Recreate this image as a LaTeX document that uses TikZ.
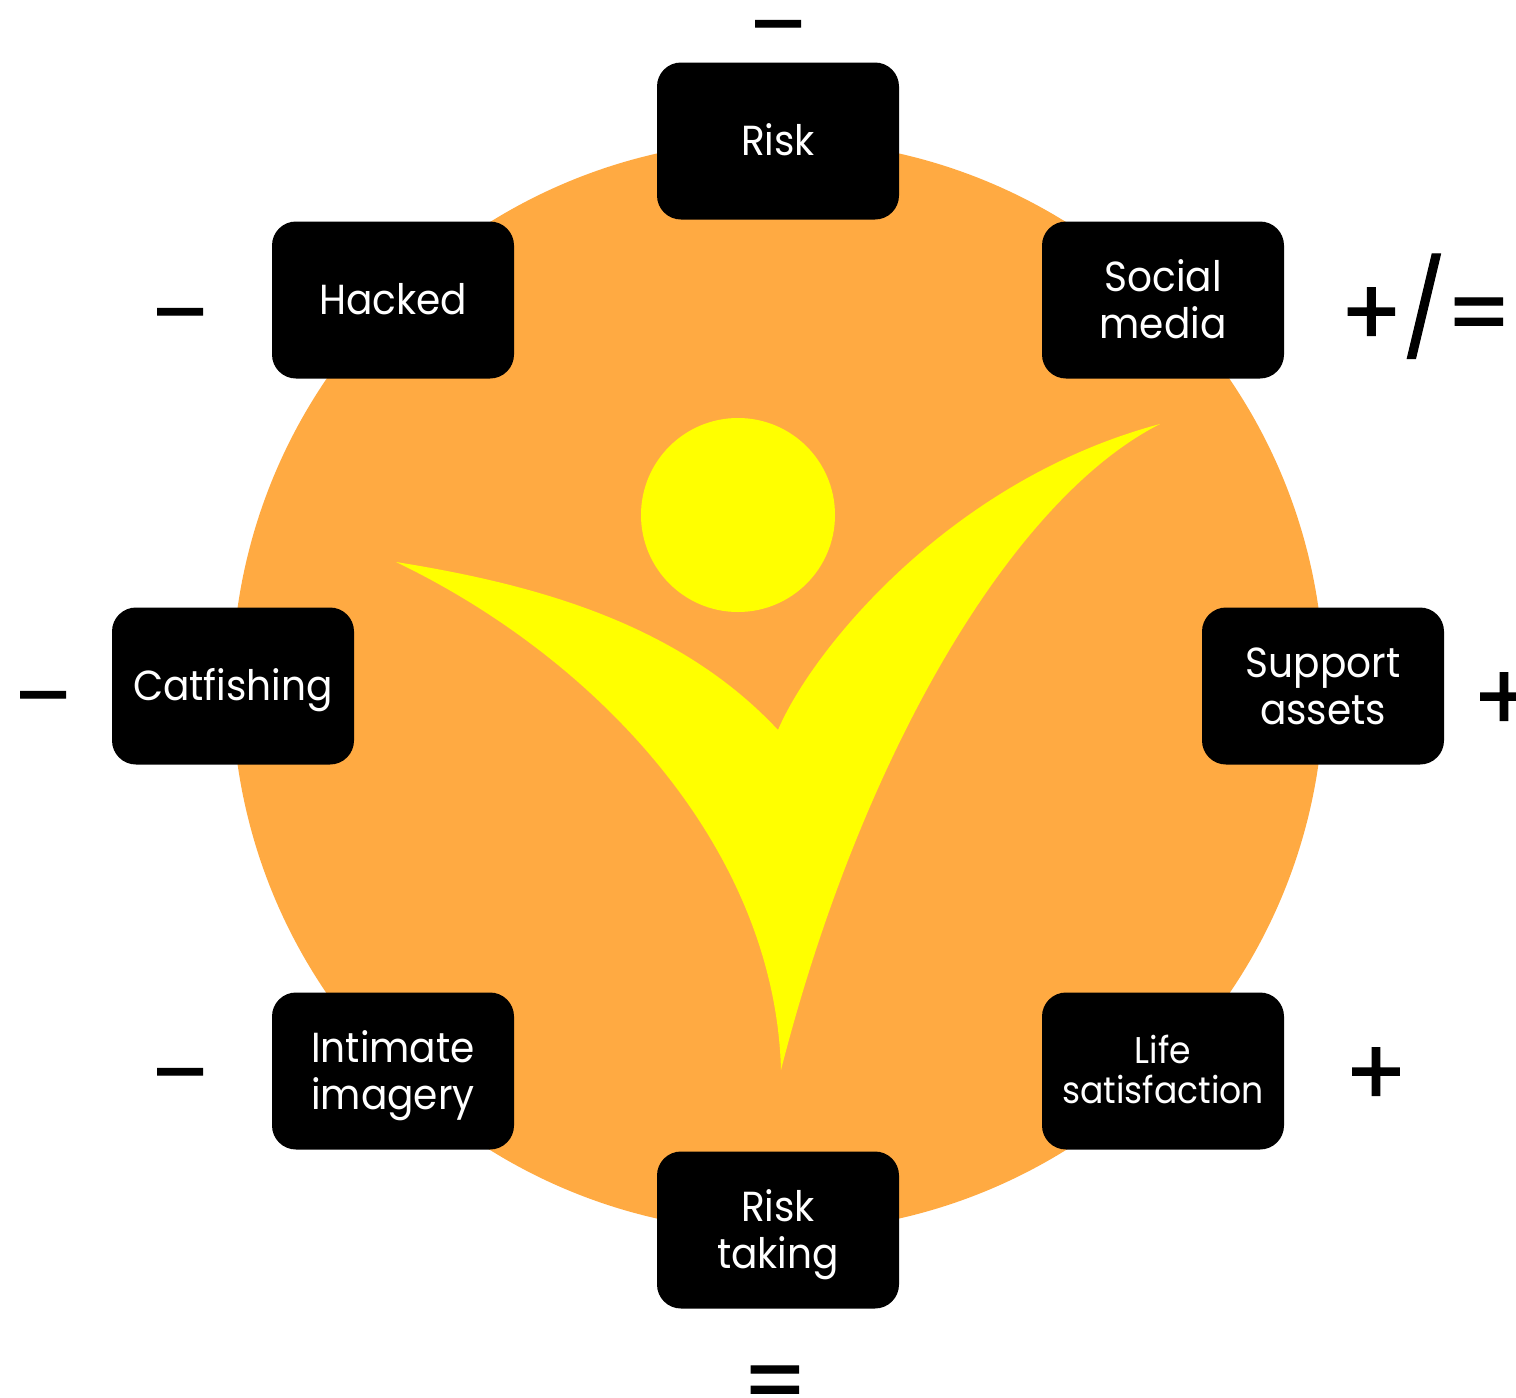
\documentclass[tikz,border=0pt]{standalone}
\usepackage{fontspec}
\setmainfont{Poppins}[FakeStretch=0.93]
\newfontfamily\signfont{Poppins}[FakeStretch=0.97,FakeBold=1.2]
\definecolor{disc}{RGB}{255,170,66}
\definecolor{figure}{RGB}{255,255,0}
\tikzset{
  box/.style={fill=black,rounded corners=12pt,minimum width=121pt,minimum height=78.5pt,inner sep=0pt},
  boxtext/.style={text=white,inner sep=0pt,align=center,font=\fontsize{21}{23.5}\selectfont},
  smalltext/.style={boxtext,font=\fontsize{18.6}{20}\selectfont},
  sign/.style={text=black,inner sep=0pt,anchor=base,font=\signfont\fontsize{47}{47}\selectfont},
  dashsign/.style={sign,font=\signfont\fontsize{44}{44}\selectfont},
}
\begin{document}
\begin{tikzpicture}[x=0.5pt,y=-0.5pt]
\useasboundingbox (0,0) rectangle (1516,1398);
\clip (0,0) rectangle (1516,1398);
\fill[disc] (778,686) circle[radius=546];
\fill[figure] (738,515) circle[radius=97];
\fill[figure] (396,562) .. controls (540,585) and (680,625) .. (778,730)
  .. controls (812,650) and (950,480) .. (1160,424)
  .. controls (1010,500) and (860,760) .. (781,1070)
  .. controls (775,850) and (600,660) .. (396,562) -- cycle;
\node[box,label={[boxtext,yshift=0.5pt]center:Risk}] (risk) at (778,141) {};
\node[box,label={[boxtext,yshift=0.5pt]center:{Social\\media}}] (social) at (1163,300) {};
\node[box,label={[boxtext]center:{Support\\assets}}] (support) at (1323,686) {};
\node[box,label={[smalltext,yshift=1pt]center:{Life\\satisfaction}}] (life) at (1163,1071) {};
\node[box,label={[boxtext,yshift=-2.5pt]center:{Risk\\taking}}] (taking) at (778,1230) {};
\node[box,label={[boxtext,yshift=-2.5pt]center:{Intimate\\imagery}}] (intimate) at (393,1071) {};
\node[box,label={[boxtext,yshift=-2pt]center:Catfishing}] (catfish) at (233,686) {};
\node[box,label={[boxtext,yshift=0.5pt]center:Hacked}] (hacked) at (393,300) {};
\node[dashsign] (s1) at (778,56) {–};
\node[sign] (s2) at (1426,346) {+\raisebox{1.75pt}{/}=};
\node[sign] (s3) at (1504,731) {+};
\node[sign] (s4) at (1376,1106) {+};
\node[sign] (s5) at (775,1414) {=};
\node[dashsign] (s6) at (180,1104) {–};
\node[dashsign] (s7) at (43,727) {–};
\node[dashsign] (s8) at (180,344) {–};
\end{tikzpicture}
\end{document}
